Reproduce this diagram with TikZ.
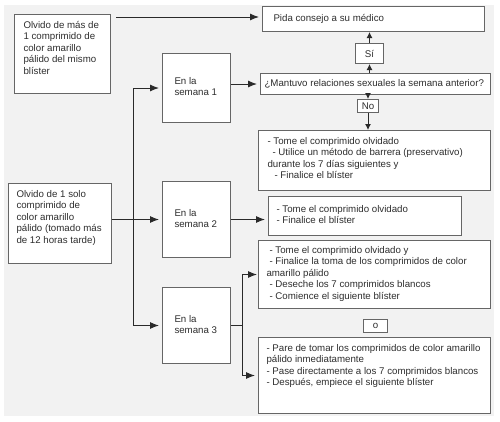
\documentclass[tikz,border=0pt]{standalone}
\usepackage{fontspec}
\setmainfont{Liberation Sans}
\usepackage{xcolor}
\usepackage{tikz}
\usetikzlibrary{arrows.meta,calc}
\definecolor{fondo}{HTML}{F2F2F2}
\definecolor{borde}{HTML}{666666}
\definecolor{linea}{HTML}{2A2A2A}
\definecolor{texto}{HTML}{2E2E2E}
% texto de una caja: [posicion]{ancho}{alto}{lineas}
\newcommand{\contenido}[4][t]{\begin{minipage}[c][#3][#1]{#2}\raggedright\strut#4\strut\end{minipage}}

\begin{document}
\begin{tikzpicture}[x=1pt,y=-1pt,
  font=\fontsize{9.7}{11.4}\selectfont,
  caja/.style={draw=borde,line width=1pt,fill=white,anchor=north west,inner xsep=9pt,inner ysep=6pt,text=texto},
  etiqueta/.style={draw=borde,line width=1pt,fill=white,anchor=north west,inner sep=0pt,align=center,text=texto},
  flecha/.style={-{Latex[length=9pt,width=7pt]},shorten >=3pt,line width=1pt,draw=linea},
  flechita/.style={-{Latex[length=6pt,width=6pt]},line width=1pt,draw=linea},
  tramo/.style={line width=1pt,draw=linea}]
\useasboundingbox (0,0) rectangle (500,421);
\fill[fondo] (4,5) rectangle (494,416);

% columna izquierda
\node[caja] (mas) at (14,14) {\contenido{78pt}{67pt}{Olvido de más de\\1 comprimido de\\color amarillo\\pálido del mismo\\blíster}};
\node[caja,inner xsep=8pt] (uno) at (8,183) {\contenido{87pt}{68pt}{Olvido de 1 solo\\comprimido de\\color amarillo\\pálido (tomado más\\de 12 horas tarde)}};

% semanas
\node[caja,inner xsep=12pt] (sem1) at (162,53) {\contenido[c]{44pt}{57pt}{En la\\semana 1}};
\node[caja,inner xsep=12pt] (sem2) at (162,181) {\contenido[c]{44pt}{64pt}{En la\\semana 2}};
\node[caja,inner xsep=12pt] (sem3) at (162,287) {\contenido[c]{44pt}{64pt}{En la\\semana 3}};

% columna derecha
\node[caja,inner xsep=11pt] (medico) at (262,6) {\contenido[c]{200pt}{13pt}{Pida consejo a su médico}};
\node[etiqueta,minimum width=28pt,minimum height=20pt] (si) at (355,43) {Sí};
\node[caja,inner xsep=4pt,inner ysep=3pt] (pregunta) at (260,73) {\contenido[c]{222pt}{15pt}{¿Mantuvo relaciones sexuales la semana anterior?}};
\node[etiqueta,minimum width=21pt,minimum height=13pt] (no) at (357,99) {No};
\node[caja] (res1) at (258,130) {\contenido{214pt}{48pt}{- Tome el comprimido olvidado\\\hspace*{5pt}- Utilice un método de barrera (preservativo)\\durante los 7 días siguientes y\\\hspace*{7pt}- Finalice el blíster}};
\node[caja,inner xsep=8pt] (res2) at (268,196) {\contenido[c]{177pt}{27pt}{- Tome el comprimido olvidado\\- Finalice el blíster}};
\node[caja,inner xsep=8pt,inner ysep=5pt] (res3a) at (258,240) {\contenido{216pt}{58pt}{\hspace*{3pt}- Tome el comprimido olvidado y\\\hspace*{3pt}- Finalice la toma de los comprimidos de color\\amarillo pálido\\\hspace*{3pt}- Deseche los 7 comprimidos blancos\\\hspace*{3pt}- Comience el siguiente blíster}};
\node[etiqueta,minimum width=24pt,minimum height=13pt] (o) at (363,319) {o};
\node[caja,inner xsep=8pt] (res3b) at (258,337) {\contenido{216pt}{64pt}{- Pare de tomar los comprimidos de color amarillo\\pálido inmediatamente\\- Pase directamente a los 7 comprimidos blancos\\- Después, empiece el siguiente blíster}};

\coordinate (tronco) at (133,0);
\coordinate (rama) at (242,0);

% conectores
\draw[flecha] ($(mas.east |- medico.west)+(5,-2)$) -- ($(medico.west)+(0,-2)$);
\draw[flechita] (si.south |- pregunta.north) -- (si.south);
\draw[flechita] (si.north) -- (si.north |- medico.south);
\draw[flechita] (no.north |- pregunta.south) -- (no.north);
\draw[flechita] (no.south) -- (no.south |- res1.north);
\draw[tramo] (tronco |- sem1.west) -- (tronco |- sem3.west);
\draw[flecha] (tronco |- sem1.west) -- (sem1.west);
\draw[flecha] (uno.east |- sem2.west) -- (sem2.west);
\draw[flecha] (tronco |- sem3.west) -- (sem3.west);
\draw[flecha] (sem1.east |- pregunta.west) -- (pregunta.west);
\draw[flecha] (sem2.east) -- (res2.west |- sem2.east);
\draw[tramo] (sem3.east) -- (rama |- sem3.east);
\draw[tramo] (rama |- res3a.west) -- (rama |- res3b.west);
\draw[flecha,shorten >=1pt] (rama |- res3a.west) -- (res3a.west);
\draw[flecha] (rama |- res3b.west) -- (res3b.west);
\end{tikzpicture}
\end{document}
